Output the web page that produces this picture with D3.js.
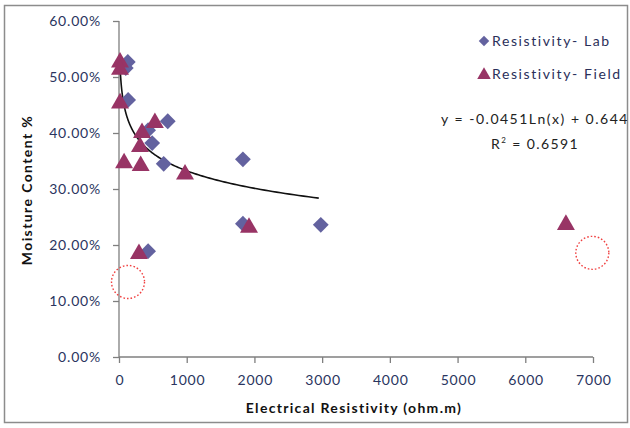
<!DOCTYPE html>
<html><head><meta charset="utf-8">
<script src="https://cdn.jsdelivr.net/npm/d3@7"></script>
<style>body{margin:0;background:#fff}svg{display:block}text{font-family:Lato,"Open Sans",sans-serif}</style>
</head><body><svg id="c" width="630" height="428"></svg>
<script>
const labX = [130, 100, 135, 720, 430, 490, 660, 1830, 1830, 2980, 430];
const labY = [0.527, 0.516, 0.459, 0.421, 0.405, 0.382, 0.345, 0.353, 0.238, 0.236, 0.189];
const fieldX = [15, 15, 15, 530, 340, 310, 75, 320, 975, 1920, 295, 6600];
const fieldY = [0.528, 0.515, 0.455, 0.420, 0.402, 0.377, 0.348, 0.343, 0.328, 0.233, 0.186, 0.238];
const circleX = [133, 6990];
const circleY = [0.134, 0.186];
const xTicks = [0, 1000, 2000, 3000, 4000, 5000, 6000, 7000];
const yTicks = [0, 0.1, 0.2, 0.3, 0.4, 0.5, 0.6];
const trendA = -0.0451, trendB = 0.644, trendRange = [15, 2950];
const eqText = "y = -0.0451Ln(x) + 0.644";
const r2Text = "0.6591";

const svg = d3.select("#c");
svg.append("rect").attr("x",4.5).attr("y",5.5).attr("width",623).attr("height",417)
  .attr("fill","#fff").attr("stroke","#8c8c8c").attr("stroke-width",1.5);

const x = d3.scaleLinear().domain([0,7000]).range([119,593]);
const y = d3.scaleLinear().domain([0,0.6]).range([357,21]);
const tickCol = "#2a3560";

const gx = svg.append("g").attr("transform","translate(0,357)")
  .call(d3.axisBottom(x).tickValues(xTicks).tickSize(6).tickPadding(12).tickFormat(d3.format("d")));
const gy = svg.append("g").attr("transform","translate(119,0)")
  .call(d3.axisLeft(y).tickValues(yTicks).tickSize(6).tickPadding(12).tickFormat(d3.format(".2%")));
[gx,gy].forEach(g=>{
  g.selectAll("path,line").attr("stroke","#7f7f7f").attr("stroke-width",1.3);
  g.selectAll("text").attr("fill",tickCol).style("font-size","14px").style("letter-spacing","0.8px").style("font-family","Lato,sans-serif");
});
gx.selectAll("text").attr("dx", 0.4);
gy.select(".domain").attr("d","M0,357V21");
gx.select(".domain").attr("d","M119,0H593");

svg.append("text").attr("x",354).attr("y",413).attr("text-anchor","middle")
  .style("font-weight","bold").style("font-size","14px").attr("fill","#111")
  .style("letter-spacing","1.3px").text("Electrical Resistivity (ohm.m)");
svg.append("text").attr("transform","translate(32,190) rotate(-90)").attr("text-anchor","middle")
  .style("font-weight","bold").style("font-size","14px").attr("fill","#111")
  .style("letter-spacing","1.4px").text("Moisture Content %");

// trend line
const tx = d3.range(0,201).map(i=>trendRange[0]*Math.pow(trendRange[1]/trendRange[0], i/200));
svg.append("path").datum(tx).attr("fill","none").attr("stroke","#111").attr("stroke-width",1.6)
  .attr("d", d3.line().x(d=>x(d)).y(d=>y(trendA*Math.log(d)+trendB)));

const diamond = d3.symbol().type(d3.symbolSquare).size(125);
const tri = d3.symbol().type(d3.symbolTriangle).size(140);
const labCol = "#63629f", fieldCol = "#983465";

svg.append("g").selectAll("path").data(labX.map((v,i)=>[v,labY[i]])).join("path")
  .attr("d",diamond).attr("fill",labCol).attr("transform",d=>`translate(${x(d[0])},${y(d[1])}) rotate(45)`);
svg.append("g").selectAll("path").data(fieldX.map((v,i)=>[v,fieldY[i]])).join("path")
  .attr("d",tri).attr("fill",fieldCol).attr("transform",d=>`translate(${x(d[0])},${y(d[1])+1})`);

svg.append("g").selectAll("circle").data(circleX.map((v,i)=>[v,circleY[i]])).join("circle")
  .attr("cx",d=>x(d[0])).attr("cy",d=>y(d[1])).attr("r",16.5)
  .attr("fill","none").attr("stroke","#f04040").attr("stroke-width",1.4).attr("stroke-dasharray","1.6,2");

// legend
const lg = svg.append("g");
lg.append("path").attr("d",d3.symbol().type(d3.symbolSquare).size(55)).attr("fill",labCol).attr("transform","translate(484,41) rotate(45)");
lg.append("text").attr("x",492).attr("y",46).style("font-size","14px").attr("fill","#2a2f5a").style("letter-spacing","1.6px").text("Resistivity- Lab");
lg.append("path").attr("d",d3.symbol().type(d3.symbolTriangle).size(80)).attr("fill",fieldCol).attr("transform","translate(484,75)");
lg.append("text").attr("x",492).attr("y",79).style("font-size","14px").attr("fill","#2a2f5a").style("letter-spacing","1.6px").text("Resistivity- Field");

svg.append("text").attr("x",535).attr("y",124).attr("text-anchor","middle").style("font-size","14px").style("letter-spacing","1.5px").attr("fill","#222").text(eqText);
const r2 = svg.append("text").attr("x",535).attr("y",149).attr("text-anchor","middle").style("font-size","14px").style("letter-spacing","1.4px").attr("fill","#222");
r2.append("tspan").text("R");
r2.append("tspan").attr("dy",-6).style("font-size","8px").text("2");
r2.append("tspan").attr("dy",6).text(" = " + r2Text);
</script></body></html>
